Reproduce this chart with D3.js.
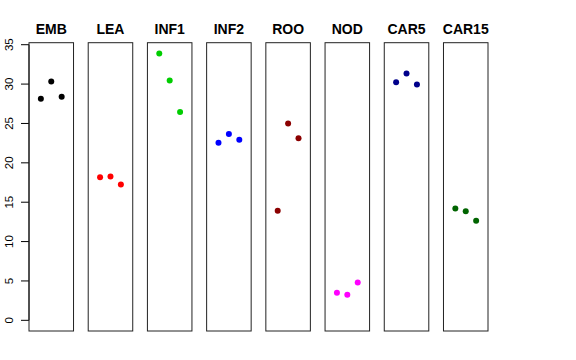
<!DOCTYPE html>
<html><head><meta charset="utf-8">
<script src="https://cdn.jsdelivr.net/npm/d3@7"></script>
<style>body{margin:0;background:#fff}svg{display:block}</style>
</head><body>
<svg id="c" width="576" height="360"></svg>
<script>
const categories = ["EMB","LEA","INF1","INF2","ROO","NOD","CAR5","CAR15"];
const replicates = [1,2,3];
const values = [
  [28.13, 30.32, 28.38],
  [18.18, 18.26, 17.25],
  [33.9, 30.45, 26.44],
  [22.56, 23.65, 22.94],
  [13.91, 25.0, 23.11],
  [3.50, 3.25, 4.81],
  [30.23, 31.33, 29.94],
  [14.21, 13.84, 12.65]
];
const colors = ["#000000","#FF0000","#00CD00","#0000FF","#8B0000","#FF00FF","#00008B","#006400"];
const yTicks = [0,5,10,15,20,25,30,35];

(function(){
const svg = d3.select("#c");
const plotTop = 42.7, plotBottom = 331;
const yMax = d3.max(values.flat()), yMin = 0;
const ext = (yMax - yMin) * 0.04;
const y = d3.scaleLinear().domain([yMin - ext, yMax + ext]).range([plotBottom, plotTop]);
const band = d3.scaleBand().domain(categories).range([29, 488]).paddingInner(0.248).paddingOuter(0);
const xIn = d3.scaleLinear().domain([-0.14, 4.14]).range([0, band.bandwidth()]);

// y axis
const ax = svg.append("g").attr("transform", "translate(29,0)");
ax.append("line").attr("x1", 0).attr("x2", 0).attr("y1", y(0)).attr("y2", y(35)).attr("stroke", "#000");
yTicks.forEach(t => {
  ax.append("line").attr("x1", -8).attr("x2", 0).attr("y1", y(t)).attr("y2", y(t)).attr("stroke", "#000");
  ax.append("text").attr("transform", `translate(-16.5,${y(t)}) rotate(-90)`)
    .attr("text-anchor", "middle").attr("font-family", "Liberation Sans, Arial, sans-serif")
    .attr("font-size", 11.5).attr("fill", "#000").text(t);
});

categories.forEach((cat, i) => {
  const g = svg.append("g").attr("transform", `translate(${band(cat)},0)`);
  g.append("rect").attr("x", 0).attr("y", plotTop).attr("width", band.bandwidth()).attr("height", plotBottom - plotTop)
    .attr("fill", "none").attr("stroke", "#222").attr("stroke-width", 1);
  g.append("text").attr("x", band.bandwidth() / 2).attr("y", 34).attr("text-anchor", "middle")
    .attr("font-family", "Liberation Sans, Arial, sans-serif").attr("font-weight", "bold")
    .attr("font-size", 14).attr("fill", "#000").text(cat);
  g.selectAll("circle").data(values[i]).enter().append("circle")
    .attr("cx", (d, j) => xIn(replicates[j])).attr("cy", d => y(d)).attr("r", 3)
    .attr("fill", colors[i]);
});
})();
</script>
</body></html>
